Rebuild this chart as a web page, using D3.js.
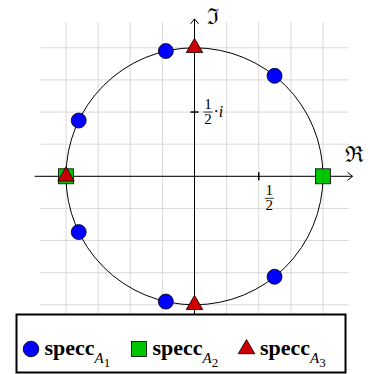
<!DOCTYPE html>
<html>
<head>
<meta charset="utf-8">
<script src="https://cdn.jsdelivr.net/npm/d3@7"></script>
<style>
  html, body { margin: 0; padding: 0; background: #fff; }
  svg { display: block; }
</style>
</head>
<body>
<div class="chart"></div>
<script>
const specA1Re = [0.623, -0.223, -0.901, -0.901, -0.223, 0.623]
const specA1Im = [0.782, 0.975, 0.434, -0.434, -0.975, -0.782]
const specA2Re = [1, -1]
const specA2Im = [0, 0]
const specA3Re = [0, -1, 0]
const specA3Im = [1, 0, -1]

const gridTicks = [-1, -0.75, -0.5, -0.25, 0, 0.25, 0.5, 0.75, 1]
const legendSubs = ['1', '2', '3']

/* Configuration */
const width = 370
const height = 374
const cx = 194.5, cy = 176.3, r = 128.5
const selector = '.chart'
const serif = 'Liberation Serif'

const colors = ['#0000ff', '#00c400', '#cc0000']

const x = d3.scaleLinear().domain([-1, 1]).range([cx - r, cx + r])
const y = d3.scaleLinear().domain([-1, 1]).range([cy + r, cy - r])

const svg = d3
    .select(selector)
    .append('svg')
    .attr('width', width)
    .attr('height', height)

// grid
const grid = svg.append('g').attr('stroke', '#d9d9d9').attr('stroke-width', 1)
grid.selectAll('.gv')
    .data(gridTicks)
    .join('line')
    .attr('x1', d => x(d)).attr('x2', d => x(d))
    .attr('y1', y(-1.2)).attr('y2', y(1.2))
grid.selectAll('.gh')
    .data(gridTicks)
    .join('line')
    .attr('class', 'gh')
    .attr('y1', d => y(d)).attr('y2', d => y(d))
    .attr('x1', x(-1.2)).attr('x2', x(1.2))

// axes
const axes = svg.append('g').attr('stroke', '#000').attr('stroke-width', 1).attr('fill', 'none')
axes.append('line')
    .attr('x1', x(-1.245)).attr('x2', x(1.23))
    .attr('y1', y(0)).attr('y2', y(0))
axes.append('line')
    .attr('x1', x(0)).attr('x2', x(0))
    .attr('y1', y(-1.3)).attr('y2', y(1.225))
// arrow heads
axes.append('path')
    .attr('d', `M${x(1.23) - 5},${y(0) - 4} L${x(1.23)},${y(0)} L${x(1.23) - 5},${y(0) + 4}`)
axes.append('path')
    .attr('d', `M${x(0) - 4},${y(1.225) + 5} L${x(0)},${y(1.225)} L${x(0) + 4},${y(1.225) + 5}`)

// ticks
axes.append('line')
    .attr('stroke-width', 1.5)
    .attr('x1', x(0.5)).attr('x2', x(0.5))
    .attr('y1', y(0) - 4).attr('y2', y(0) + 4)
axes.append('line')
    .attr('stroke-width', 1.5)
    .attr('x1', x(0) - 4).attr('x2', x(0) + 4)
    .attr('y1', y(0.5)).attr('y2', y(0.5))

function addText(g, size) {
    return g.append('text')
        .style('font-family', serif)
        .style('font-size', size + 'px')
}

function fraction(g, fx, fy) {
    // fy = y of the fraction bar
    addText(g, 15).attr('x', fx).attr('y', fy - 3).attr('text-anchor', 'middle').text('1')
    g.append('line').attr('x1', fx - 4.5).attr('x2', fx + 4.5)
        .attr('y1', fy).attr('y2', fy).attr('stroke', '#000').attr('stroke-width', 0.8)
    addText(g, 15).attr('x', fx).attr('y', fy + 12).attr('text-anchor', 'middle').text('2')
}
const labels = svg.append('g').attr('fill', '#000')
fraction(labels, x(0.5) + 10.5, y(0) + 22)
fraction(labels, x(0) + 13.5, y(0.5))
const it = addText(labels, 16).attr('x', x(0) + 19).attr('y', y(0.5) + 4.5)
it.append('tspan').text('·')
it.append('tspan').style('font-style', 'italic').text('i')

addText(labels, 22)
    .attr('x', x(1.17)).attr('y', y(0) - 14)
    .text('\u211C')
addText(labels, 22)
    .attr('x', x(0) + 12).attr('y', y(1.225) + 5)
    .text('\u2111')

// unit circle
svg.append('circle')
    .attr('cx', x(0)).attr('cy', y(0))
    .attr('r', x(1) - x(0))
    .attr('fill', 'none')
    .attr('stroke', '#000')
    .attr('stroke-width', 1)

// marks
const marks = svg.append('g').attr('stroke', '#000').attr('stroke-width', 0.8)
marks.selectAll('.a1')
    .data(d3.zip(specA1Re, specA1Im))
    .join('circle')
    .attr('cx', d => x(d[0])).attr('cy', d => y(d[1]))
    .attr('r', 7.5)
    .attr('fill', colors[0])
marks.selectAll('.a2')
    .data(d3.zip(specA2Re, specA2Im))
    .join('rect')
    .attr('x', d => x(d[0]) - 7.5).attr('y', d => y(d[1]) - 7.5)
    .attr('width', 15).attr('height', 15)
    .attr('fill', colors[1])
const tri = d3.symbol().type(d3.symbolTriangle).size(118)
marks.selectAll('.a3')
    .data(d3.zip(specA3Re, specA3Im))
    .join('path')
    .attr('d', tri)
    .attr('transform', d => `translate(${x(d[0])},${y(d[1])})`)
    .attr('fill', colors[2])

// legend
const legend = svg.append('g')
legend.append('rect')
    .attr('x', 16.5).attr('y', 314.5)
    .attr('width', 329).attr('height', 58)
    .attr('fill', '#fff')
    .attr('stroke', '#000')
    .attr('stroke-width', 2)

const legendX = [31, 139, 246.5]
const legendY = 349
const item = legend.selectAll('.item')
    .data(d3.zip(legendX, legendSubs, colors))
    .join('g')
    .attr('transform', d => `translate(${d[0]},${legendY})`)

item.each(function (d, i) {
    const g = d3.select(this)
    if (i === 0) {
        g.append('circle').attr('r', 7.8).attr('fill', d[2]).attr('stroke', '#000').attr('stroke-width', 0.8)
    } else if (i === 1) {
        g.append('rect').attr('x', -7.5).attr('y', -7.5).attr('width', 15).attr('height', 15)
            .attr('fill', d[2]).attr('stroke', '#000').attr('stroke-width', 0.8)
    } else {
        g.append('path').attr('d', tri).attr('fill', d[2]).attr('stroke', '#000').attr('stroke-width', 0.8)
    }
    const t = addText(g, 22).attr('x', 13.5).attr('y', 6)
    t.append('tspan').style('font-weight', 'bold').text('specc')
    t.append('tspan').style('font-style', 'italic').style('font-size', '15px').attr('dy', 8).text('A')
    t.append('tspan').style('font-size', '13px').attr('dy', 4).text(d[1])
})
</script>
</body>
</html>
